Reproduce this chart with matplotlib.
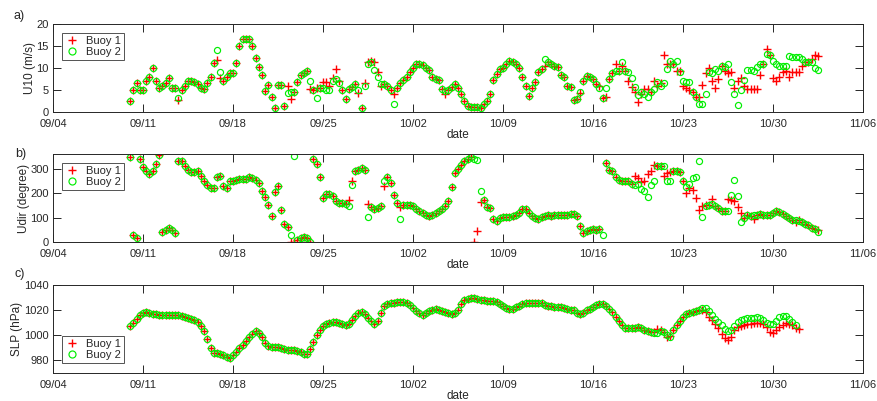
import numpy as np
import pandas as pd
import matplotlib
matplotlib.use("Agg")
import matplotlib.pyplot as plt
import matplotlib.dates as mdates

plt.rcParams['font.family'] = ['Liberation Sans', 'DejaVu Sans']

nan = np.nan

# 6-hourly sampling, starting 09/10 00:00
times = pd.date_range('2017-09-10 00:00', periods=216, freq='6h')

# ---- a) wind speed U10 (m/s)
u10_b1 = [2.4, 5.0, 6.5, 5.0, 5.0, 7.1, 8.0, 10.0, 7.1, 5.4, 6.0, 6.5,
          7.8, 5.5, 5.4, 2.8, 5.0, 6.0, 7.0, 7.1, 6.8, 6.3, 5.5, 5.3,
          6.7, 8.0, 11.1, 11.9, 7.8, 7.1, 8.0, 8.8, 8.8, 11.2, 14.9, 16.5,
          16.5, 16.5, 14.9, 12.3, 10.2, 8.5, 4.7, 6.1, 3.3, 0.8, 6.1, 6.1,
          1.3, 5.8, 3.0, 4.6, 6.8, 8.5, 8.8, 9.3, 5.3, 4.9, 5.5, 5.5,
          6.8, 6.8, 5.8, 7.8, 9.7, 7.1, 5.0, 3.0, 5.3, 5.7, 6.3, 4.3,
          1.0, 6.5, 11.3, 11.7, 11.3, 9.2, 5.8, 6.3, 5.8, 5.0, 4.1, 5.5,
          6.5, 7.3, 8.0, 9.2, 10.1, 11.0, 11.0, 10.7, 9.9, 9.6, 8.0, 7.5,
          7.3, 5.3, 4.0, 5.0, 5.7, 6.3, 5.5, 4.1, 2.6, 1.4, 1.2, 1.2,
          1.2, 1.0, 1.9, 2.6, 4.0, 7.3, 8.6, 9.7, 10.1, 11.0, 11.6, 11.3,
          10.8, 9.9, 7.9, 5.8, 3.7, 5.5, 6.8, 9.1, 9.7, 10.5, 11.3, 10.9,
          10.5, 10.2, 8.3, 8.0, 6.0, 5.7, 2.8, 3.0, 4.3, 7.1, 8.2, 8.0,
          7.5, 6.3, 6.0, 3.2, 3.5, 7.5, 8.8, 11.0, 9.3, 10.5, 9.3, 7.1,
          5.7, 4.6, 2.3, 4.1, 5.3, 5.3, 4.6, 7.1, 6.0, 6.5, 12.9, 11.0,
          10.9, 10.9, 9.4, 9.4, 6.0, 5.5, 4.9, 4.6, 3.5, 3.5, 6.1, 8.8,
          10.1, 7.1, 5.5, 7.5, 10.5, 9.3, 8.8, 9.0, 5.5, 7.1, 7.8, 6.0,
          5.3, 5.3, 5.3, 5.3, 8.3, 11.0, 14.4, 12.9, 7.8, 7.1, 8.0, 9.0,
          9.3, 8.0, 9.0, 9.0, 9.0, 10.4, 11.3, 11.3, 12.1, 12.9, 12.7, nan]
u10_b2 = [2.4, 5.0, 6.5, 5.0, 5.0, 7.1, 8.0, 10.0, 7.1, 5.4, 6.0, 6.5,
          7.8, 5.5, 5.4, 3.1, 5.0, 6.0, 7.0, 7.1, 6.8, 6.3, 5.5, 5.3,
          6.7, 8.0, 11.1, 14.2, 9.0, 7.1, 8.0, 8.8, 8.8, 11.2, 14.9, 16.5,
          16.5, 16.5, 14.9, 12.3, 10.2, 8.5, 4.7, 6.1, 3.3, 0.8, 6.1, 6.1,
          1.3, 4.3, 4.6, 4.6, 6.8, 8.5, 8.8, 9.3, 7.0, 4.9, 3.2, 5.5,
          5.5, 5.0, 5.0, 7.1, 7.5, 6.7, 5.0, 3.0, 5.3, 5.7, 6.3, 4.9,
          1.0, 5.8, 10.9, 11.3, 9.5, 8.0, 6.3, 6.3, 5.8, 5.0, 1.9, 5.5,
          6.5, 7.3, 8.0, 9.2, 10.1, 11.0, 11.0, 10.7, 9.9, 9.6, 8.0, 7.5,
          7.3, 5.3, 4.8, 5.0, 5.7, 6.3, 5.5, 4.1, 2.6, 1.4, 1.2, 1.2,
          1.2, 1.0, 1.9, 2.6, 4.0, 7.3, 8.6, 9.7, 10.1, 11.0, 11.6, 11.3,
          10.8, 9.9, 7.9, 5.8, 3.7, 5.5, 6.8, 9.1, 9.7, 12.0, 11.3, 10.9,
          10.5, 10.2, 8.3, 8.0, 6.0, 5.7, 2.8, 3.0, 4.6, 7.1, 8.2, 8.0,
          7.5, 6.3, 5.5, 3.2, 5.5, 7.5, 8.8, 9.3, 9.3, 11.3, 9.3, 9.0,
          7.8, 5.7, 3.8, 4.6, 4.1, 3.4, 4.6, 5.3, 6.8, 6.0, 6.5, 9.7,
          11.6, 11.0, 11.6, 9.0, 7.1, 6.8, 6.8, 4.6, 3.4, 1.9, 1.9, 4.0,
          9.0, 8.8, 9.7, 9.4, 10.5, 10.2, 11.0, 6.8, 4.0, 1.7, 5.0, 7.3,
          9.6, 9.6, 9.3, 10.2, 10.8, 11.0, 13.1, 12.9, 11.7, 11.0, 10.5, 10.5,
          10.5, 12.7, 12.5, 12.4, 12.5, 12.1, 11.3, 11.3, 11.3, 10.1, 9.6, nan]

# ---- b) wind direction (degree)
udir_b1 = [346, 30, 16, 340, 306, 289, 278, 292, 319, 355, 40, 50,
           57, 50, 35, 330, 330, 310, 296, 286, 286, 289, 269, 251,
           232, 221, 221, 265, 268, 228, 221, 251, 251, 255, 259, 259,
           259, 264, 262, 255, 241, 207, 183, 150, 105, 205, 228, 130,
           74, 60, 0, 0, 10, 15, 20, 15, 0, 341, 319, 265,
           180, 196, 196, 190, 169, 160, 160, 156, 173, 248, 289, 296,
           303, 296, 155, 142, 136, 140, 146, 228, 265, 241, 193, 160,
           142, 150, 150, 150, 146, 136, 125, 119, 110, 105, 110, 119,
           128, 136, 146, 169, 224, 282, 300, 316, 330, 341, 346, 0,
           44, 164, 173, 142, 140, 95, 87, 98, 101, 101, 101, 105,
           110, 119, 136, 136, 119, 105, 98, 95, 101, 105, 110, 105,
           110, 112, 112, 110, 112, 115, 115, 105, 64, 37, 47, 50,
           54, 50, 54, nan, 323, 296, 289, 265, 255, 251, 248, 248,
           237, 268, 262, 245, 250, 278, 292, 314, 310, 310, 268, 282,
           286, 289, 289, 286, 250, 200, 220, 214, 180, 131, 146, 150,
           150, 177, 146, 140, 128, 128, 177, 170, 169, 142, 119, 98,
           110, 105, 95, 112, 115, 112, 112, 112, 119, 125, 122, 115,
           105, 98, 92, 82, 92, 82, 74, 68, 57, 54, 50, nan]
udir_b2 = [346, 30, 16, 340, 306, 289, 278, 292, 319, 355, 40, 50,
           57, 50, 35, 330, 330, 310, 296, 286, 286, 289, 269, 251,
           232, 221, 221, 265, 268, 228, 221, 251, 251, 255, 259, 259,
           259, 264, 262, 255, 241, 207, 183, 150, 105, 205, 228, 130,
           74, 60, 27, 350, 10, 15, 20, 15, 0, 341, 319, 265,
           180, 196, 196, 190, 169, 160, 160, 156, 146, 234, 289, 296,
           303, 296, 101, 142, 136, 140, 146, 251, 265, 241, 193, 160,
           95, 150, 150, 150, 146, 136, 125, 119, 110, 105, 110, 119,
           128, 136, 146, 169, 224, 282, 300, 316, 330, 341, 346, 340,
           337, 210, 173, 142, 140, 95, 87, 98, 101, 101, 101, 105,
           110, 119, 136, 136, 119, 105, 98, 95, 101, 105, 110, 105,
           110, 112, 112, 110, 112, 115, 115, 105, 64, 37, 47, 50,
           54, 50, 54, 27, 323, 296, 289, 265, 255, 251, 248, 248,
           237, 234, 237, 218, 210, 183, 232, 251, 310, 310, 310, 248,
           248, 289, 289, 286, 248, 224, 237, 262, 265, 333, 101, 146,
           150, 155, 146, 140, 128, 128, 128, 193, 255, 190, 82, 100,
           110, 105, 110, 112, 115, 112, 112, 112, 119, 125, 122, 115,
           105, 98, 92, 90, 85, 82, 74, 68, 57, 54, 40, nan]

# ---- c) sea level pressure (hPa)
slp_b1 = [1007.4, 1009.5, 1012.7, 1016.5, 1018.0, 1018.5, 1017.5, 1017.0, 1017.3, 1016.5, 1016.0, 1016.0,
          1016.0, 1016.5, 1016.0, 1016.0, 1015.3, 1014.5, 1013.5, 1012.7, 1011.8, 1010.2, 1007.5, 1003.5,
          997.0, 990.0, 986.0, 986.0, 985.5, 984.5, 982.5, 982.0, 984.0, 986.5, 989.5, 992.5,
          995.5, 998.5, 1001.0, 1003.5, 1002.0, 998.5, 993.5, 991.5, 991.0, 991.0, 990.5, 990.0,
          989.0, 988.5, 988.5, 988.0, 987.8, 986.5, 985.2, 985.5, 989.0, 995.0, 1000.5, 1004.5,
          1007.5, 1008.8, 1010.0, 1010.9, 1010.8, 1009.8, 1008.8, 1008.3, 1009.2, 1012.5, 1015.0, 1017.5,
          1018.8, 1017.2, 1013.7, 1011.2, 1009.3, 1011.0, 1017.5, 1023.5, 1025.2, 1025.4, 1025.8, 1026.5,
          1026.8, 1026.5, 1025.5, 1024.0, 1021.8, 1019.5, 1017.5, 1016.5, 1017.8, 1019.0, 1020.2, 1020.6,
          1020.2, 1019.5, 1018.8, 1017.5, 1017.0, 1017.5, 1020.5, 1024.5, 1027.8, 1029.2, 1030.0, 1029.6,
          1028.8, 1028.2, 1027.7, 1027.5, 1027.5, 1027.2, 1026.2, 1024.8, 1023.5, 1021.8, 1020.7, 1021.0,
          1022.3, 1023.5, 1025.0, 1025.4, 1025.4, 1025.4, 1025.4, 1026.0, 1025.4, 1024.1, 1023.3, 1023.3,
          1022.5, 1022.3, 1022.3, 1021.7, 1021.0, 1020.3, 1019.8, 1018.0, 1017.2, 1018.0, 1019.8, 1020.7,
          1022.2, 1024.0, 1025.2, 1025.0, 1023.6, 1021.3, 1018.3, 1014.8, 1011.2, 1008.0, 1006.0, 1005.6,
          1005.6, 1006.0, 1006.2, 1005.4, 1004.5, 1003.6, 1002.6, 1002.5, 1004.8, 1004.3, 1003.0, 998.5,
          999.6, 1004.3, 1008.3, 1011.6, 1014.8, 1017.0, 1018.0, 1018.8, 1019.5, 1020.0, 1019.8, 1018.5,
          1014.8, 1012.0, 1009.0, 1006.0, 1001.0, 997.5, 996.5, 999.0, 1004.5, 1006.8, 1007.7, 1008.5,
          1009.0, 1009.2, 1009.6, 1010.0, 1010.0, 1009.0, 1006.4, 1003.0, 1002.2, 1004.2, 1006.8, 1008.2,
          1010.0, 1009.2, 1007.8, 1006.0, 1004.8, nan, nan, nan, nan, nan, nan, nan]
# buoy 2 overlaps buoy 1 until about 10/21, then its own readings
slp_b2 = slp_b1[:163] + [
          1001.7, 1001.7, 1003.5, 1002.5, 1000.4,
          998.8, 1004.3, 1008.3, 1011.6, 1014.8, 1017.0, 1018.0, 1018.8, 1019.5, 1020.5, 1022.0, 1022.0,
          1019.5, 1016.0, 1013.0, 1010.5, 1008.0, 1005.0, 1003.5, 1004.5, 1007.5, 1010.2, 1011.8, 1012.9,
          1013.5, 1013.6, 1014.0, 1014.3, 1014.0, 1012.2, 1010.1, 1009.0, 1009.0, 1011.5, 1014.2, 1015.2,
          1015.3, 1013.0, 1010.5, 1008.0, nan, nan, nan, nan, nan, nan, nan, nan]

panels = [
    ('a)', 'U10 (m/s)', u10_b1, u10_b2, (0, 20), [0, 5, 10, 15, 20], 'upper left'),
    ('b)', 'Udir (degree)', udir_b1, udir_b2, (0, 360), [0, 100, 200, 300], 'upper left'),
    ('c)', 'SLP (hPa)', slp_b1, slp_b2, (970, 1040), [980, 1000, 1020, 1040], 'lower left'),
]

W, H = 877, 401
fig = plt.figure(figsize=(W / 100, H / 100), dpi=100)
ax_tops = [24, 154, 285]
ax_h = 88
label_pos = [(19, 16), (21, 154), (20, 274)]
txt = '#262626'

xticks = pd.date_range('2017-09-04', '2017-11-06', freq='7D')

for k, (tag, ylab, b1, b2, ylim, yt, loc) in enumerate(panels):
    top = ax_tops[k]
    ax = fig.add_axes([53 / W, 1 - (top + ax_h) / H, 810 / W, ax_h / H])
    ax.plot(times, b1, '+', color='#ff0000', ms=5.4, mew=1.0, label='Buoy 1')
    ax.plot(times, b2, 'o', color='#00ee00', mfc='none', ms=4.4, mew=0.85, label='Buoy 2')
    ax.set_xlim(pd.Timestamp('2017-09-04'), pd.Timestamp('2017-11-06'))
    ax.set_ylim(*ylim)
    ax.set_yticks(yt)
    ax.set_xticks(xticks)
    ax.xaxis.set_major_formatter(mdates.DateFormatter('%m/%d'))
    ax.tick_params(direction='in', length=5.5, width=0.7, top=True, right=True,
                   labelsize=8, colors=txt, pad=3)
    ax.tick_params(axis='x', pad=5)
    for sp in ax.spines.values():
        sp.set_color(txt)
        sp.set_linewidth(0.7)
    ax.set_ylabel(ylab, fontsize=8.5, color=txt, labelpad=0.5)
    ax.set_xlabel('date', fontsize=8.5, color=txt, labelpad=0)
    if loc == 'upper left':
        anchor = (9 / 810, 1 - 9 / ax_h)
    else:
        anchor = (9 / 810, 10 / ax_h)
    leg = ax.legend(loc=loc, bbox_to_anchor=anchor, borderaxespad=0, fontsize=8,
                    frameon=True, fancybox=False, handlelength=1.3, handletextpad=0.6,
                    borderpad=0.25, labelspacing=0.1, markerscale=1.15)
    leg.get_frame().set_edgecolor(txt)
    leg.get_frame().set_linewidth(0.7)
    for t in leg.get_texts():
        t.set_color(txt)
    fig.text(label_pos[k][0] / W, 1 - label_pos[k][1] / H, tag, fontsize=9,
             color=txt, ha='center', va='center')

fig.savefig('out.png', dpi=100)
